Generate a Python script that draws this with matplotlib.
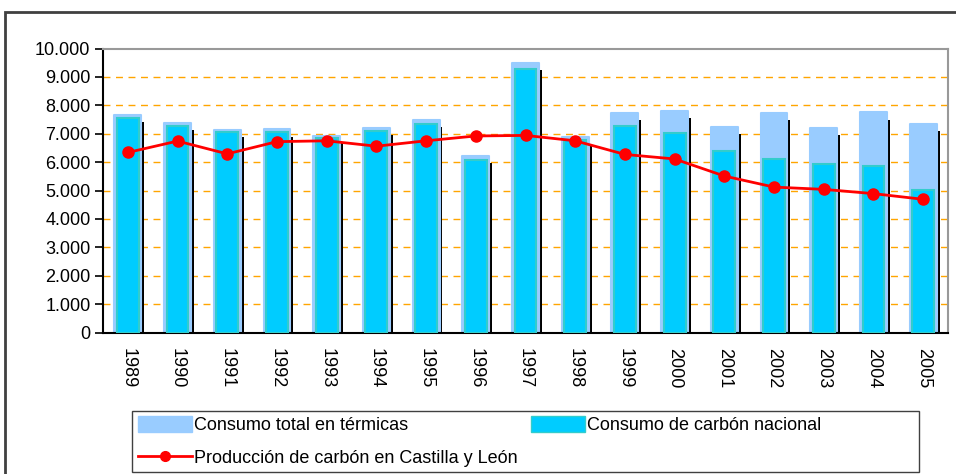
import numpy as np
import matplotlib
matplotlib.use('Agg')
import matplotlib.pyplot as plt
from matplotlib.patches import Patch, Rectangle
from matplotlib.lines import Line2D

plt.rcParams['font.family'] = ['Liberation Sans', 'DejaVu Sans']

years = ['1989', '1990', '1991', '1992', '1993', '1994', '1995', '1996', '1997',
         '1998', '1999', '2000', '2001', '2002', '2003', '2004', '2005']
total = [7670, 7370, 7140, 7150, 6920, 7210, 7480, 6230, 9480,
         6890, 7740, 7800, 7240, 7720, 7210, 7750, 7330]
nacional = [7550, 7270, 7060, 7060, 6840, 7110, 7340, 6070, 9270,
            6780, 7270, 7040, 6380, 6100, 5930, 5850, 5020]
produccion = [6340, 6740, 6290, 6720, 6750, 6560, 6750, 6920, 6940,
              6750, 6270, 6110, 5510, 5120, 5040, 4890, 4690]

lbl_total = 'Consumo total en térmicas'
lbl_nac = 'Consumo de carbón nacional'
lbl_prod = 'Producción de carbón en Castilla y León'

W, H = 956, 474
fs = 13
fig = plt.figure(figsize=(W / 100, H / 100), dpi=100)
ax = fig.add_axes([103 / W, (H - 332.5) / H, 845 / W, 284 / H])

x = np.arange(len(years))
total = np.array(total)

# sombra negra a la derecha de cada barra
ax.bar(x + 0.31, total - 250, width=0.04, color='black', zorder=1.5)
ax.bar(x, total, width=0.54, color='#99CCFF', edgecolor='#99CCFF',
       linewidth=1.5, joinstyle='round', zorder=2)
ax.bar(x, nacional, width=0.44, color='#00CCFF', edgecolor='#33CCCC',
       linewidth=1.5, zorder=3)
ax.plot(x, produccion, color='red', lw=2, marker='o', ms=8, zorder=4)

ax.set_xlim(-0.5, len(years) - 0.5)
ax.set_ylim(0, 10000)
yt = np.arange(0, 10001, 1000)
ax.set_yticks(yt)
ax.set_yticklabels(['{:,}'.format(v).replace(',', '.') for v in yt], fontsize=fs)
for v in yt[1:-1]:
    ax.axhline(v, color='#FFA500', lw=1, dashes=(5, 4), zorder=1)

ax.set_xticks(x)
ax.set_xticklabels(years, rotation=270, fontsize=fs)
ax.tick_params(axis='x', length=0, pad=11)
ax.tick_params(axis='y', length=6, width=1.2, direction='out', pad=3)

for s in ['top', 'right']:
    ax.spines[s].set_color('#999999')
    ax.spines[s].set_linewidth(1.5)
for s in ['left', 'bottom']:
    ax.spines[s].set_color('black')
    ax.spines[s].set_linewidth(1.5)

# marco exterior
fig.patches.append(Rectangle((5 / W, -0.1), 1.0, (H - 12) / H + 0.1,
                             transform=fig.transFigure, fill=False,
                             edgecolor='#404040', lw=2))
# marco de la leyenda
fig.patches.append(Rectangle((132 / W, (H - 472) / H), (919 - 132) / W, 61 / H,
                             transform=fig.transFigure, fill=False,
                             edgecolor='#404040', lw=1))

handles = [Patch(facecolor='#99CCFF', edgecolor='#99CCFF'),
           Line2D([], [], color='red', lw=2, marker='o', ms=7),
           Patch(facecolor='#00CCFF', edgecolor='#33CCCC')]
labels = [lbl_total, lbl_prod, lbl_nac]
leg = fig.legend(handles, labels, loc='upper left',
                 bbox_to_anchor=(134 / W, (H - 412) / H),
                 ncol=2, frameon=False, fontsize=fs,
                 handlelength=3.0, handleheight=1.0,
                 handletextpad=0.1, borderaxespad=0, borderpad=0.2,
                 labelspacing=0.85, columnspacing=0.75)

fig.savefig('out.png', dpi=100)
plt.close()
